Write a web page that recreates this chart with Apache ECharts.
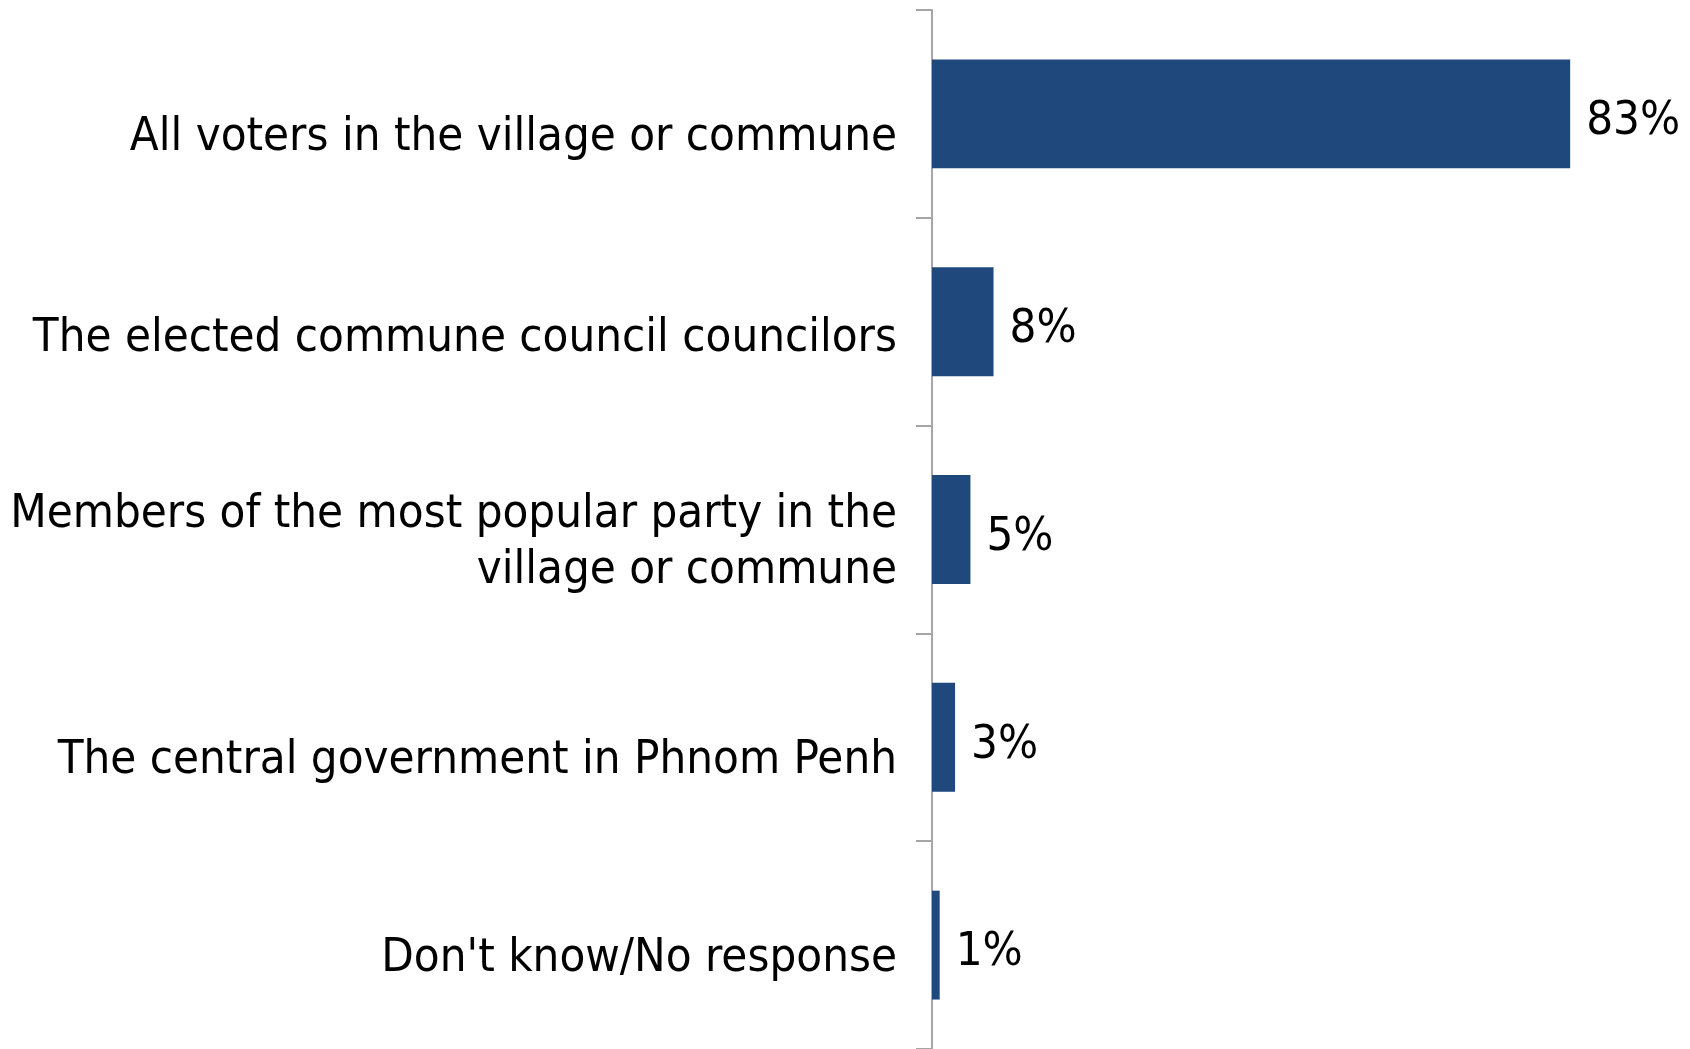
<!DOCTYPE html>
<html>
<head>
<meta charset="utf-8">
<script src="https://cdn.jsdelivr.net/npm/echarts@6/dist/echarts.min.js"></script>
<style>
  html, body { margin: 0; padding: 0; background: #ffffff; }
  #chart { width: 1690px; height: 1049px; }
</style>
</head>
<body>
<div id="chart"></div>
<script>
// Who should elect the village chief: share of respondents (%)
var categories = [
  'All voters in the village or commune',
  'The elected commune council councilors',
  'Members of the most popular party in the\nvillage or commune',
  'The central government in Phnom Penh',
  "Don't know/No response"
];
var shares = [83, 8, 5, 3, 1];

var FONT = '"DejaVu Sans Condensed", "DejaVu Sans", sans-serif';

// height of an empty spacer line placed above each category label,
// which lowers the label a little below its bar centre
var spacerHeights = [48, 34, 27, 46, 28];

var richStyles = {};
spacerHeights.forEach(function (h, i) {
  richStyles['s' + i] = { fontSize: 1, lineHeight: h };
});

var chart = echarts.init(document.getElementById('chart'), null, { renderer: 'canvas' });

chart.setOption({
  backgroundColor: '#ffffff',
  animation: false,
  grid: { left: 932, top: 10, width: 692, height: 1040, containLabel: false },
  xAxis: {
    type: 'value',
    min: 0,
    max: 90,
    show: false
  },
  yAxis: {
    type: 'category',
    inverse: true,
    data: categories,
    axisLine: { show: true, lineStyle: { color: '#a6a6a6', width: 2 } },
    axisTick: { show: true, length: 16, lineStyle: { color: '#a6a6a6', width: 2 } },
    axisLabel: {
      margin: 35,
      color: '#000000',
      fontFamily: FONT,
      fontSize: 47,
      lineHeight: 56,
      align: 'right',
      formatter: function (value, idx) {
        return '{s' + idx + '| }\n' + value;
      },
      rich: richStyles
    },
    splitLine: { show: false }
  },
  series: [{
    type: 'bar',
    data: shares,
    barCategoryGap: '47.6%',
    itemStyle: { color: '#1f497d' },
    label: {
      show: true,
      position: 'right',
      distance: 16,
      offset: [0, 8],
      formatter: '{c}%',
      color: '#000000',
      fontFamily: FONT,
      fontSize: 47
    }
  }]
});
</script>
</body>
</html>
